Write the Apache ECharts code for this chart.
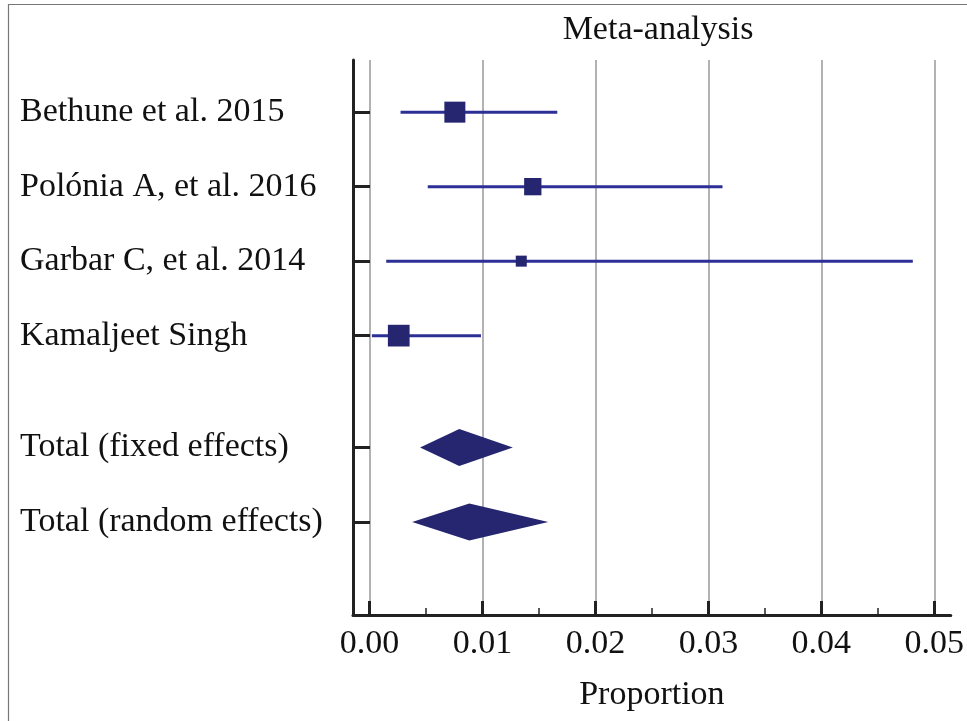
<!DOCTYPE html>
<html>
<head>
<meta charset="utf-8">
<script src="https://cdn.jsdelivr.net/npm/echarts@6/dist/echarts.min.js"></script>
<style>
html,body{margin:0;padding:0;background:#fff;}
#chart{width:967px;height:721px;}
</style>
</head>
<body>
<div id="chart"></div>
<script>
// ---- data ----
const studies = ['Bethune et al. 2015', 'Polónia A, et al. 2016', 'Garbar C, et al. 2014', 'Kamaljeet Singh'];
const estimates = [0.00755, 0.01445, 0.01343, 0.00258];
const lowerCI = [0.00274, 0.00515, 0.00147, 0.0002];
const upperCI = [0.01662, 0.03125, 0.0481, 0.00986];
const weights = [33.1, 22.5, 9.1, 35.4];
const pooledLabels = ['Total (fixed effects)', 'Total (random effects)'];
const pooledEst = [0.00794, 0.00883];
const pooledLower = [0.00447, 0.00377];
const pooledUpper = [0.01268, 0.01582];
const rowPositions = [0, 1, 2, 3, 4.5, 5.5];
const xTicks = [0, 0.01, 0.02, 0.03, 0.04, 0.05];
const xMinorTicks = [0.005, 0.015, 0.025, 0.035, 0.045];

const allLabels = studies.concat(pooledLabels);
const FONT = '"Liberation Serif", "Times New Roman", serif';
const SQUARE_COLOR = '#25266f';
const LINE_COLOR = '#2c2f95';

const ciData = studies.map((s, i) => [lowerCI[i], upperCI[i], rowPositions[i]]);
const squareData = studies.map((s, i) => ({
  value: [estimates[i], rowPositions[i]],
  symbolSize: 3.65 * Math.sqrt(weights[i])
}));
const diamondData = pooledLabels.map((s, i) => [pooledLower[i], pooledEst[i], pooledUpper[i], rowPositions[studies.length + i]]);

const chart = echarts.init(document.getElementById('chart'), null, {renderer: 'canvas'});
const X_MIN = -0.00147, X_MAX = 0.05146;

chart.setOption({
  animation: false,
  backgroundColor: '#ffffff',
  title: {
    text: 'Meta-analysis',
    left: 653,
    textAlign: 'center',
    top: 8,
    textStyle: {fontFamily: FONT, fontSize: 34, fontWeight: 'normal', color: '#111'}
  },
  graphic: [
    {type: 'polyline', shape: {points: [[8.5, 730], [8.5, 4.5], [975, 4.5]]}, style: {stroke: '#777', lineWidth: 1.2, fill: null}, silent: true}
  ],
  grid: {left: 353, right: 14, top: 60, bottom: 106, containLabel: false},
  xAxis: [
    {
      type: 'value', min: X_MIN, max: X_MAX,
      position: 'bottom',
      name: 'Proportion', nameLocation: 'middle', nameGap: 63,
      nameTextStyle: {fontFamily: FONT, fontSize: 34, color: '#111'},
      axisLine: {show: true, onZero: false, lineStyle: {color: '#222', width: 3}},
      axisTick: {show: true, inside: true, length: 14, customValues: xTicks, lineStyle: {color: '#222', width: 3}},
      axisLabel: {show: true, customValues: xTicks, margin: 12, formatter: v => v.toFixed(2),
        fontFamily: FONT, fontSize: 34, color: '#111'},
      splitLine: {show: true, lineStyle: {color: '#999', width: 1.5}}
    },
    {
      type: 'value', min: X_MIN, max: X_MAX,
      position: 'bottom',
      axisLine: {show: false, onZero: false},
      axisTick: {show: true, inside: true, length: 7, customValues: xMinorTicks, lineStyle: {color: '#222', width: 1.5}},
      axisLabel: {show: false},
      splitLine: {show: false}
    }
  ],
  yAxis: {
    type: 'value', inverse: true, min: -0.7, max: 6.75,
    axisLine: {show: true, onZero: false, lineStyle: {color: '#222', width: 3}},
    axisTick: {show: true, inside: true, length: 17, customValues: rowPositions, lineStyle: {color: '#222', width: 3}},
    axisLabel: {
      show: true, customValues: rowPositions, align: 'left', margin: 333,
      formatter: v => allLabels[rowPositions.indexOf(v)] || '',
      fontFamily: FONT, fontSize: 34, color: '#111'
    },
    splitLine: {show: false}
  },
  series: [
    {
      type: 'custom', xAxisIndex: 0, yAxisIndex: 0,
      data: ciData,
      encode: {x: [0, 1], y: 2},
      renderItem: function (params, api) {
        const y = api.value(2);
        const p1 = api.coord([api.value(0), y]);
        const p2 = api.coord([api.value(1), y]);
        return {type: 'line', shape: {x1: p1[0], y1: p1[1], x2: p2[0], y2: p2[1]},
          style: {stroke: LINE_COLOR, lineWidth: 3}};
      },
      z: 2
    },
    {
      type: 'scatter', xAxisIndex: 0, yAxisIndex: 0,
      symbol: 'rect',
      data: squareData,
      itemStyle: {color: SQUARE_COLOR, opacity: 1},
      z: 3
    },
    {
      type: 'custom', xAxisIndex: 0, yAxisIndex: 0,
      data: diamondData,
      encode: {x: [0, 1, 2], y: 3},
      renderItem: function (params, api) {
        const y = api.value(3);
        const lo = api.coord([api.value(0), y]);
        const mid = api.coord([api.value(1), y]);
        const hi = api.coord([api.value(2), y]);
        const h = 18.5;
        return {type: 'polygon', shape: {points: [[lo[0], lo[1]], [mid[0], mid[1] - h], [hi[0], hi[1]], [mid[0], mid[1] + h]]},
          style: {fill: SQUARE_COLOR}};
      },
      z: 3
    }
  ]
});
</script>
</body>
</html>
